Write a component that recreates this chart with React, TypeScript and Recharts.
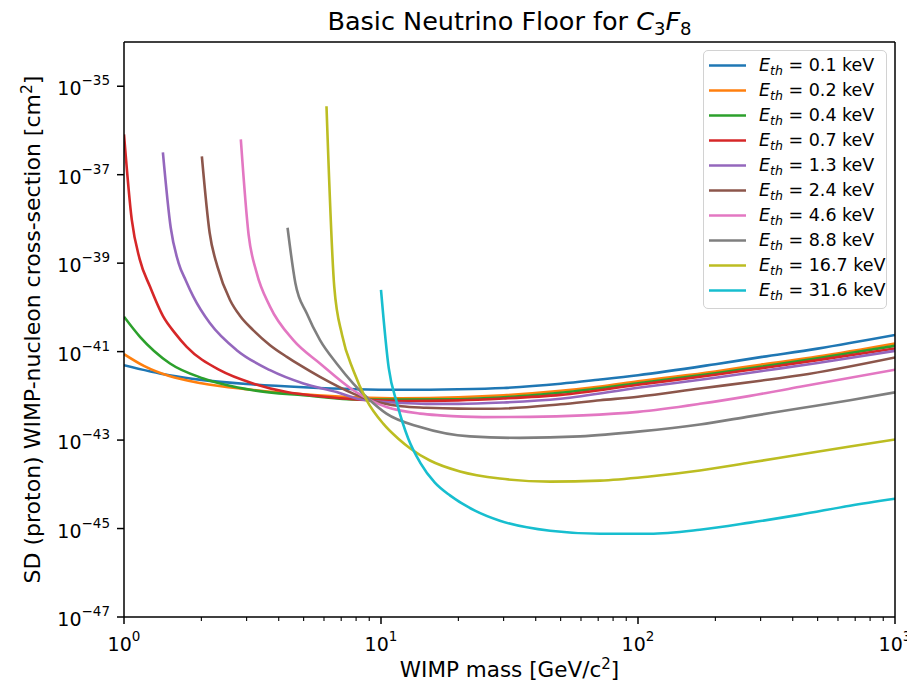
import React from 'react';
import { LineChart, Line, XAxis, YAxis, Legend } from 'recharts';

const FONT = '"DejaVu Sans", "Liberation Sans", sans-serif';

// Recoil threshold energies (keV) and the matching line colours
const thresholds = ['0.1', '0.2', '0.4', '0.7', '1.3', '2.4', '4.6', '8.8', '16.7', '31.6'];
const colors = ['#1f77b4', '#ff7f0e', '#2ca02c', '#d62728', '#9467bd', '#8c564b', '#e377c2', '#7f7f7f', '#bcbd22', '#17becf'];

// Neutrino floor curves: [WIMP mass (GeV/c^2), SD cross-section (cm^2)]
const floor0p1: [number, number][] = [
  [1, 4.93e-42], [1.5, 2.92e-42], [2, 2.3e-42], [3, 1.85e-42], [5, 1.56e-42], [8, 1.41e-42],
  [12, 1.37e-42], [20, 1.41e-42], [30, 1.51e-42], [50, 1.88e-42], [70, 2.31e-42], [100, 2.92e-42],
  [200, 5.2e-42], [300, 7.5e-42], [500, 1.17e-41], [1000, 2.37e-41],
];
const floor0p2: [number, number][] = [
  [1, 8.77e-42], [1.2, 4.69e-42], [1.5, 2.8e-42], [2, 1.93e-42], [3, 1.41e-42], [5, 1.08e-42],
  [8, 9.27e-43], [12, 8.81e-43], [20, 9.27e-43], [30, 1.03e-42], [50, 1.3e-42], [70, 1.61e-42],
  [100, 2.14e-42], [200, 3.55e-42], [300, 5.07e-42], [500, 7.73e-42], [1000, 1.53e-41],
];
const floor0p4: [number, number][] = [
  [1, 6.15e-41], [1.154, 2.16e-41], [1.51, 5.4e-42], [2.035, 2.47e-42], [3.18, 1.34e-42],
  [4.99, 1.03e-42], [8.28, 8.22e-43], [12, 8.22e-43], [20, 8.4e-43], [30, 9.3e-43],
  [50, 1.17e-42], [100, 1.93e-42], [200, 3.25e-42], [300, 4.56e-42], [500, 7.11e-42], [1000, 1.35e-41],
];
const floor0p7: [number, number][] = [
  [1, 8.15e-37], [1.072, 9.62e-39], [1.15, 1.25e-39], [1.262, 2.95e-40], [1.422, 6.15e-41],
  [1.579, 2.62e-41], [1.754, 1.28e-41], [2.36, 3.8e-42], [3.18, 1.9e-42], [4.3, 1.22e-42],
  [5.79, 9.77e-43], [8.28, 8.22e-43], [12, 7.64e-43], [20, 7.9e-43], [30, 8.7e-43],
  [50, 1.05e-42], [100, 1.78e-42], [200, 2.99e-42], [300, 4.18e-42], [500, 6.41e-42], [1000, 1.18e-41],
];
const floor1p3: [number, number][] = [
  [1.417, 3.18e-37], [1.52, 6.32e-39], [1.63, 1.02e-39], [1.743, 3.97e-40], [1.861, 1.75e-40],
  [2.161, 4.36e-41], [2.745, 1.08e-41], [3.7, 3.8e-42], [4.99, 1.9e-42], [6.72, 1.22e-42],
  [8.28, 8.36e-43], [12, 6.89e-43], [15, 6.6e-43], [20, 6.6e-43], [30, 7.1e-43], [50, 8.6e-43],
  [100, 1.52e-42], [200, 2.57e-42], [300, 3.61e-42], [500, 5.53e-42], [1000, 1.04e-41],
];
const floor2p4: [number, number][] = [
  [2.009, 2.58e-37], [2.154, 4.88e-39], [2.31, 8.38e-40], [2.585, 1.47e-40], [2.83, 6.38e-41],
  [3.18, 3.07e-41], [3.7, 1.4e-41], [4.3, 7.62e-42], [4.84, 4.93e-42], [5.79, 2.68e-42],
  [7.8, 1.12e-42], [8.66, 8.81e-43], [12, 5.8e-43], [15, 5.4e-43], [20, 5.15e-43], [27.3, 5.1e-43],
  [50, 6.44e-43], [71.2, 7.93e-43], [100, 9.53e-43], [174, 1.46e-42], [300, 2.2e-42],
  [427, 2.92e-42], [1000, 7.38e-42],
];
const floor4p6: [number, number][] = [
  [2.848, 6.28e-37], [3.054, 4.39e-39], [3.275, 6.35e-40], [3.7, 1.04e-40], [4.56, 1.82e-41],
  [5.79, 5.4e-42], [7.8, 1.34e-42], [10.5, 5.58e-43], [14.2, 3.96e-43], [17, 3.62e-43],
  [24.9, 3.31e-43], [38, 3.35e-43], [61.1, 3.62e-43], [100, 4.35e-43], [174, 6.6e-43],
  [273, 1.0e-42], [427, 1.6e-42], [1000, 3.9e-42],
];
const floor8p8: [number, number][] = [
  [4.329, 6.32e-39], [4.642, 3.58e-40], [5.14, 7.34e-41], [5.79, 1.82e-41], [6.72, 5.4e-42],
  [7.8, 1.9e-42], [9.06, 7.93e-43], [10.5, 3.96e-43], [14.2, 1.97e-43], [22.2, 1.21e-43],
  [34.7, 1.12e-43], [59.5, 1.21e-43], [102, 1.57e-43], [174, 2.26e-43], [273, 3.44e-43],
  [427, 5.22e-43], [668, 7.93e-43], [1000, 1.2e-42],
];
const floor16p7: [number, number][] = [
  [6.136, 3.52e-36], [6.579, 2.9e-40], [7.055, 2.37e-41], [7.8, 3.8e-42], [8.8, 7.93e-43],
  [10.2, 2.35e-43], [11.68, 1.07e-43], [13, 6.46e-44], [15.5, 3.45e-44], [20.3, 1.95e-44],
  [29, 1.35e-44], [45.5, 1.15e-44], [71.2, 1.21e-44], [111, 1.5e-44], [174, 2.05e-44],
  [273, 3.1e-44], [427, 4.72e-44], [668, 7.16e-44], [1000, 1.03e-43],
];
const floor31p6: [number, number][] = [
  [10, 2.48e-40], [10.72, 4.22e-42], [11.55, 6.67e-43], [12.77, 1.07e-43], [14.2, 3.1e-44],
  [16.2, 1.09e-44], [18.6, 5.55e-45], [23.2, 2.54e-45], [29, 1.5e-45], [45.5, 8.91e-46],
  [71.2, 7.62e-46], [111, 7.62e-46], [174, 9.4e-46], [273, 1.36e-45], [427, 2.06e-45],
  [668, 3.29e-45], [1000, 4.74e-45],
];

const floors = [floor0p1, floor0p2, floor0p4, floor0p7, floor1p3, floor2p4, floor4p6, floor8p8, floor16p7, floor31p6];

// Axis ticks: decades labelled, in-between values as minor ticks on the mass axis
const massTicks = [1, 2, 3, 4, 5, 6, 7, 8, 9, 10, 20, 30, 40, 50, 60, 70, 80, 90, 100, 200, 300, 400, 500, 600, 700, 800, 900, 1000];
const sigmaTicks = [1e-47, 1e-45, 1e-43, 1e-41, 1e-39, 1e-37, 1e-35];

const MASS_DOMAIN: [number, number] = [1, 1000];
const SIGMA_DOMAIN: [number, number] = [1e-47, 1e-34];

const WIDTH = 915;
const HEIGHT = 683;

const MassTick = (props: any) => {
  const { x, y, payload } = props;
  const lg = Math.log10(payload.value);
  const exp = Math.round(lg);
  const major = Math.abs(lg - exp) < 1e-6;
  return (
    <g>
      <line x1={x} x2={x} y1={y} y2={y + (major ? 7 : 4)} stroke="#000" strokeWidth={major ? 1.5 : 1.1} />
      {major && (
        <text x={x} y={y + 34} textAnchor="middle" fontFamily={FONT} fontSize={19} fill="#000">
          10<tspan dy={-10} fontSize={13.5}>{exp}</tspan>
        </text>
      )}
    </g>
  );
};

const SigmaTick = (props: any) => {
  const { x, y, payload } = props;
  const exp = Math.round(Math.log10(payload.value));
  return (
    <g>
      <line x1={x} x2={x - 7} y1={y} y2={y} stroke="#000" strokeWidth={1.5} />
      <text x={x - 14} y={y + 9} textAnchor="end" fontFamily={FONT} fontSize={19} fill="#000">
        10<tspan dy={-10} fontSize={13.5}>{'\u2212' + Math.abs(exp)}</tspan>
      </text>
    </g>
  );
};

const XTitle = (props: any) => {
  const vb = props.viewBox || { x: 124, y: 617, width: 771, height: 66 };
  return (
    <text x={vb.x + vb.width / 2} y={vb.y + 60} textAnchor="middle" fontFamily={FONT} fontSize={21.5} fill="#000">
      WIMP mass [GeV/c<tspan dy={-8} fontSize={15}>2</tspan><tspan dy={8}>]</tspan>
    </text>
  );
};

const YTitle = (props: any) => {
  const vb = props.viewBox || { x: 0, y: 42, width: 124, height: 575 };
  const cx = 40;
  const cy = vb.y + vb.height / 2;
  return (
    <text x={cx} y={cy} transform={`rotate(-90 ${cx} ${cy})`} textAnchor="middle" fontFamily={FONT} fontSize={22} fill="#000">
      SD (proton) WIMP-nucleon cross-section [cm<tspan dy={-8} fontSize={15.5}>2</tspan><tspan dy={8}>]</tspan>
    </text>
  );
};

const ChartTitle = (props: any) => {
  const vb = props.viewBox || { x: 124, y: 41, width: 771, height: 1 };
  const top = vb.y + vb.height;
  return (
    <text x={vb.x + vb.width / 2} y={top - 12} textAnchor="middle" fontFamily={FONT} fontSize={25.5} fill="#000">
      Basic Neutrino Floor for <tspan fontStyle="italic">C</tspan>
      <tspan fontSize={18} dy={5}>3</tspan>
      <tspan fontStyle="italic" fontSize={25.5} dy={-5}>F</tspan>
      <tspan fontSize={18} dy={5}>8</tspan>
    </text>
  );
};

const LegendBox = (props: any) => {
  const items = [...(props.payload || [])].sort(
    (a: any, b: any) => thresholds.indexOf(a.value) - thresholds.indexOf(b.value)
  );
  return (
    <div
      style={{
        position: 'relative',
        width: 184,
        height: 259,
        boxSizing: 'border-box',
        border: '1px solid #d2d2d2',
        borderRadius: 5,
        background: 'rgba(255,255,255,0.8)',
        fontFamily: FONT,
        fontSize: 17.5,
        color: '#000',
      }}
    >
      {items.map((item: any, i: number) => (
        <div key={item.value} style={{ position: 'absolute', left: 0, top: 1.5 + i * 25.1, height: 25, width: '100%' }}>
          <svg width={46} height={25} style={{ position: 'absolute', left: 0, top: 0 }}>
            <line x1={5} x2={42} y1={12.5} y2={12.5} stroke={item.color} strokeWidth={2.6} />
          </svg>
          <div style={{ position: 'absolute', left: 55, top: 0, lineHeight: '25px', whiteSpace: 'nowrap' }}>
            <i>E</i>
            <i style={{ fontSize: 12.5, position: 'relative', top: 4 }}>th</i>
            {' = ' + item.value + ' keV'}
          </div>
        </div>
      ))}
    </div>
  );
}

export default function App() {
  const frame = { stroke: '#000', strokeWidth: 1.5 };
  return (
    // offset the page margin so chart coordinates line up with the full window
    <div style={{ width: WIDTH, height: HEIGHT, margin: '-8px 0 0 -8px' }}>
      <LineChart width={WIDTH} height={HEIGHT} margin={{ top: 41, right: 19, bottom: 0, left: 0 }}>
        <XAxis
          xAxisId="mass"
          dataKey="m"
          type="number"
          scale="log"
          domain={MASS_DOMAIN}
          ticks={massTicks}
          interval={0}
          allowDataOverflow
          height={66}
          tickSize={0}
          tickMargin={0}
          tickLine={false}
          tick={<MassTick />}
          axisLine={frame}
          label={<XTitle />}
        />
        <XAxis
          xAxisId="frameTop"
          orientation="top"
          type="number"
          scale="log"
          domain={MASS_DOMAIN}
          allowDataOverflow
          height={1}
          tick={false}
          tickLine={false}
          axisLine={frame}
          label={<ChartTitle />}
        />
        <YAxis
          yAxisId="sigma"
          type="number"
          scale="log"
          domain={SIGMA_DOMAIN}
          ticks={sigmaTicks}
          interval={0}
          allowDataOverflow
          width={124}
          tickSize={0}
          tickMargin={0}
          tickLine={false}
          tick={<SigmaTick />}
          axisLine={frame}
          label={<YTitle />}
        />
        <YAxis
          yAxisId="frameRight"
          orientation="right"
          type="number"
          scale="log"
          domain={SIGMA_DOMAIN}
          allowDataOverflow
          width={1}
          tick={false}
          tickLine={false}
          axisLine={frame}
        />
        <Legend
          layout="vertical"
          align="center"
          verticalAlign="middle"
          content={<LegendBox />}
          wrapperStyle={{ left: 703, top: 50, width: 184, height: 259 }}
        />
        {floors.map((pts, i) => (
          <Line
            key={thresholds[i]}
            xAxisId="mass"
            yAxisId="sigma"
            data={pts.map(([m, s]) => ({ m, s }))}
            dataKey="s"
            name={thresholds[i]}
            type="monotone"
            stroke={colors[i]}
            strokeWidth={2.6}
            dot={false}
            activeDot={false}
            isAnimationActive={false}
          />
        ))}
      </LineChart>
    </div>
  );
}
